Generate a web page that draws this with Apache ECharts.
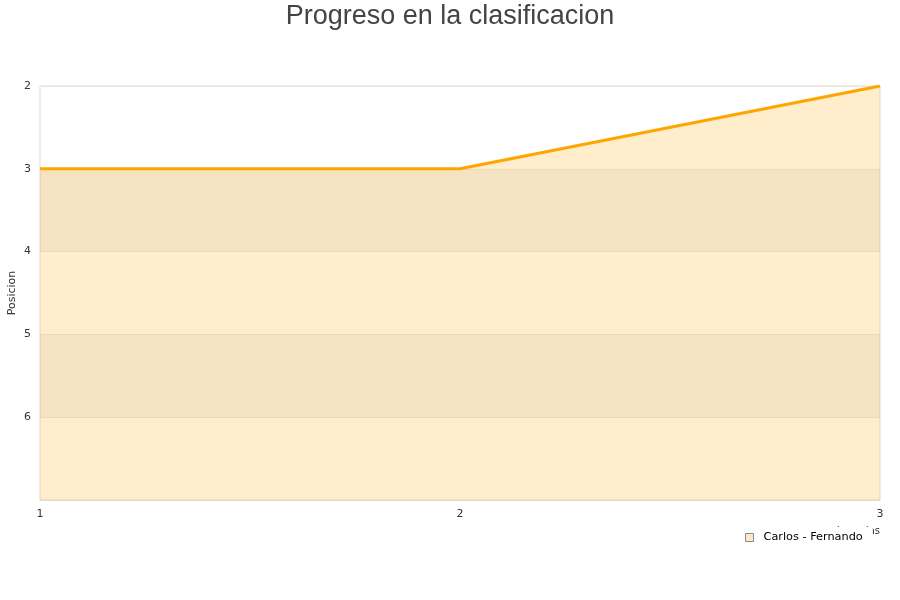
<!DOCTYPE html>
<html>
<head>
<meta charset="utf-8">
<script src="https://cdn.jsdelivr.net/npm/echarts@6/dist/echarts.min.js"></script>
<style>html,body{margin:0;padding:0;background:#fff}#c{width:900px;height:600px}</style>
</head>
<body>
<div id="c"></div>
<script>
const titleText = 'Progreso en la clasificacion';
const jornadas = ['1', '2', '3'];
const seriesName = 'Carlos - Fernando';
const posiciones = [3, 3, 2];
const yLabelName = 'Posicion';
const xLabelName = 'Jornadas';

const chart = echarts.init(document.getElementById('c'));
chart.setOption({
  animation: false,
  backgroundColor: '#fff',
  title: {
    text: titleText, left: 'center', top: -2,
    textStyle: {fontFamily: 'Liberation Sans', fontSize: 27, fontWeight: 'normal', color: '#444'}
  },
  legend: {
    data: [{name: seriesName, icon: 'rect', itemStyle: {color: '#ffe9c4', borderColor: '#888', borderWidth: 1}}],
    left: 740, top: 527, itemWidth: 8, itemHeight: 8, itemGap: 6,
    backgroundColor: '#fff', padding: [5, 10, 3, 5],
    textStyle: {fontFamily: 'DejaVu Sans', fontSize: 11.3, color: '#000', padding: [0, 0, 0, 5]}
  },
  grid: {left: 40, right: 20, top: 86, bottom: 100, containLabel: false, outerBoundsMode: 'none',
    show: true, borderColor: '#ddd', borderWidth: 1},
  xAxis: {
    type: 'category', data: jornadas, boundaryGap: false,
    name: xLabelName, nameLocation: 'end', nameGap: 0, nameMoveOverlap: false,
    nameTextStyle: {fontFamily: 'DejaVu Sans', fontSize: 10, color: '#333', align: 'right', verticalAlign: 'top', padding: [26, 0, 0, 0]},
    axisLine: {lineStyle: {color: '#ddd'}}, axisTick: {show: false},
    axisLabel: {fontFamily: 'DejaVu Sans', fontSize: 11, color: '#333', margin: 9}
  },
  yAxis: {
    type: 'value', inverse: true, min: 2, max: 7, interval: 1,
    name: yLabelName, nameLocation: 'middle', nameGap: 22, nameMoveOverlap: false,
    nameTextStyle: {fontFamily: 'DejaVu Sans', fontSize: 11, color: '#333'},
    axisLine: {show: false}, axisTick: {show: false},
    axisLabel: {fontFamily: 'DejaVu Sans', fontSize: 11, color: '#333', margin: 9,
      formatter: v => (v === 7 ? '' : String(v))},
    splitLine: {lineStyle: {color: '#e6e6e6'}},
    splitArea: {show: true, areaStyle: {color: ['rgba(255,255,255,0)', 'rgba(0,0,0,0.05)']}}
  },
  series: [{
    name: seriesName, type: 'line', data: posiciones, showSymbol: false,
    lineStyle: {color: '#ffa500', width: 3},
    itemStyle: {color: '#ffa500'},
    areaStyle: {color: 'rgba(255,165,0,0.2)', opacity: 1, origin: 'end'}
  }]
});
</script>
</body>
</html>
